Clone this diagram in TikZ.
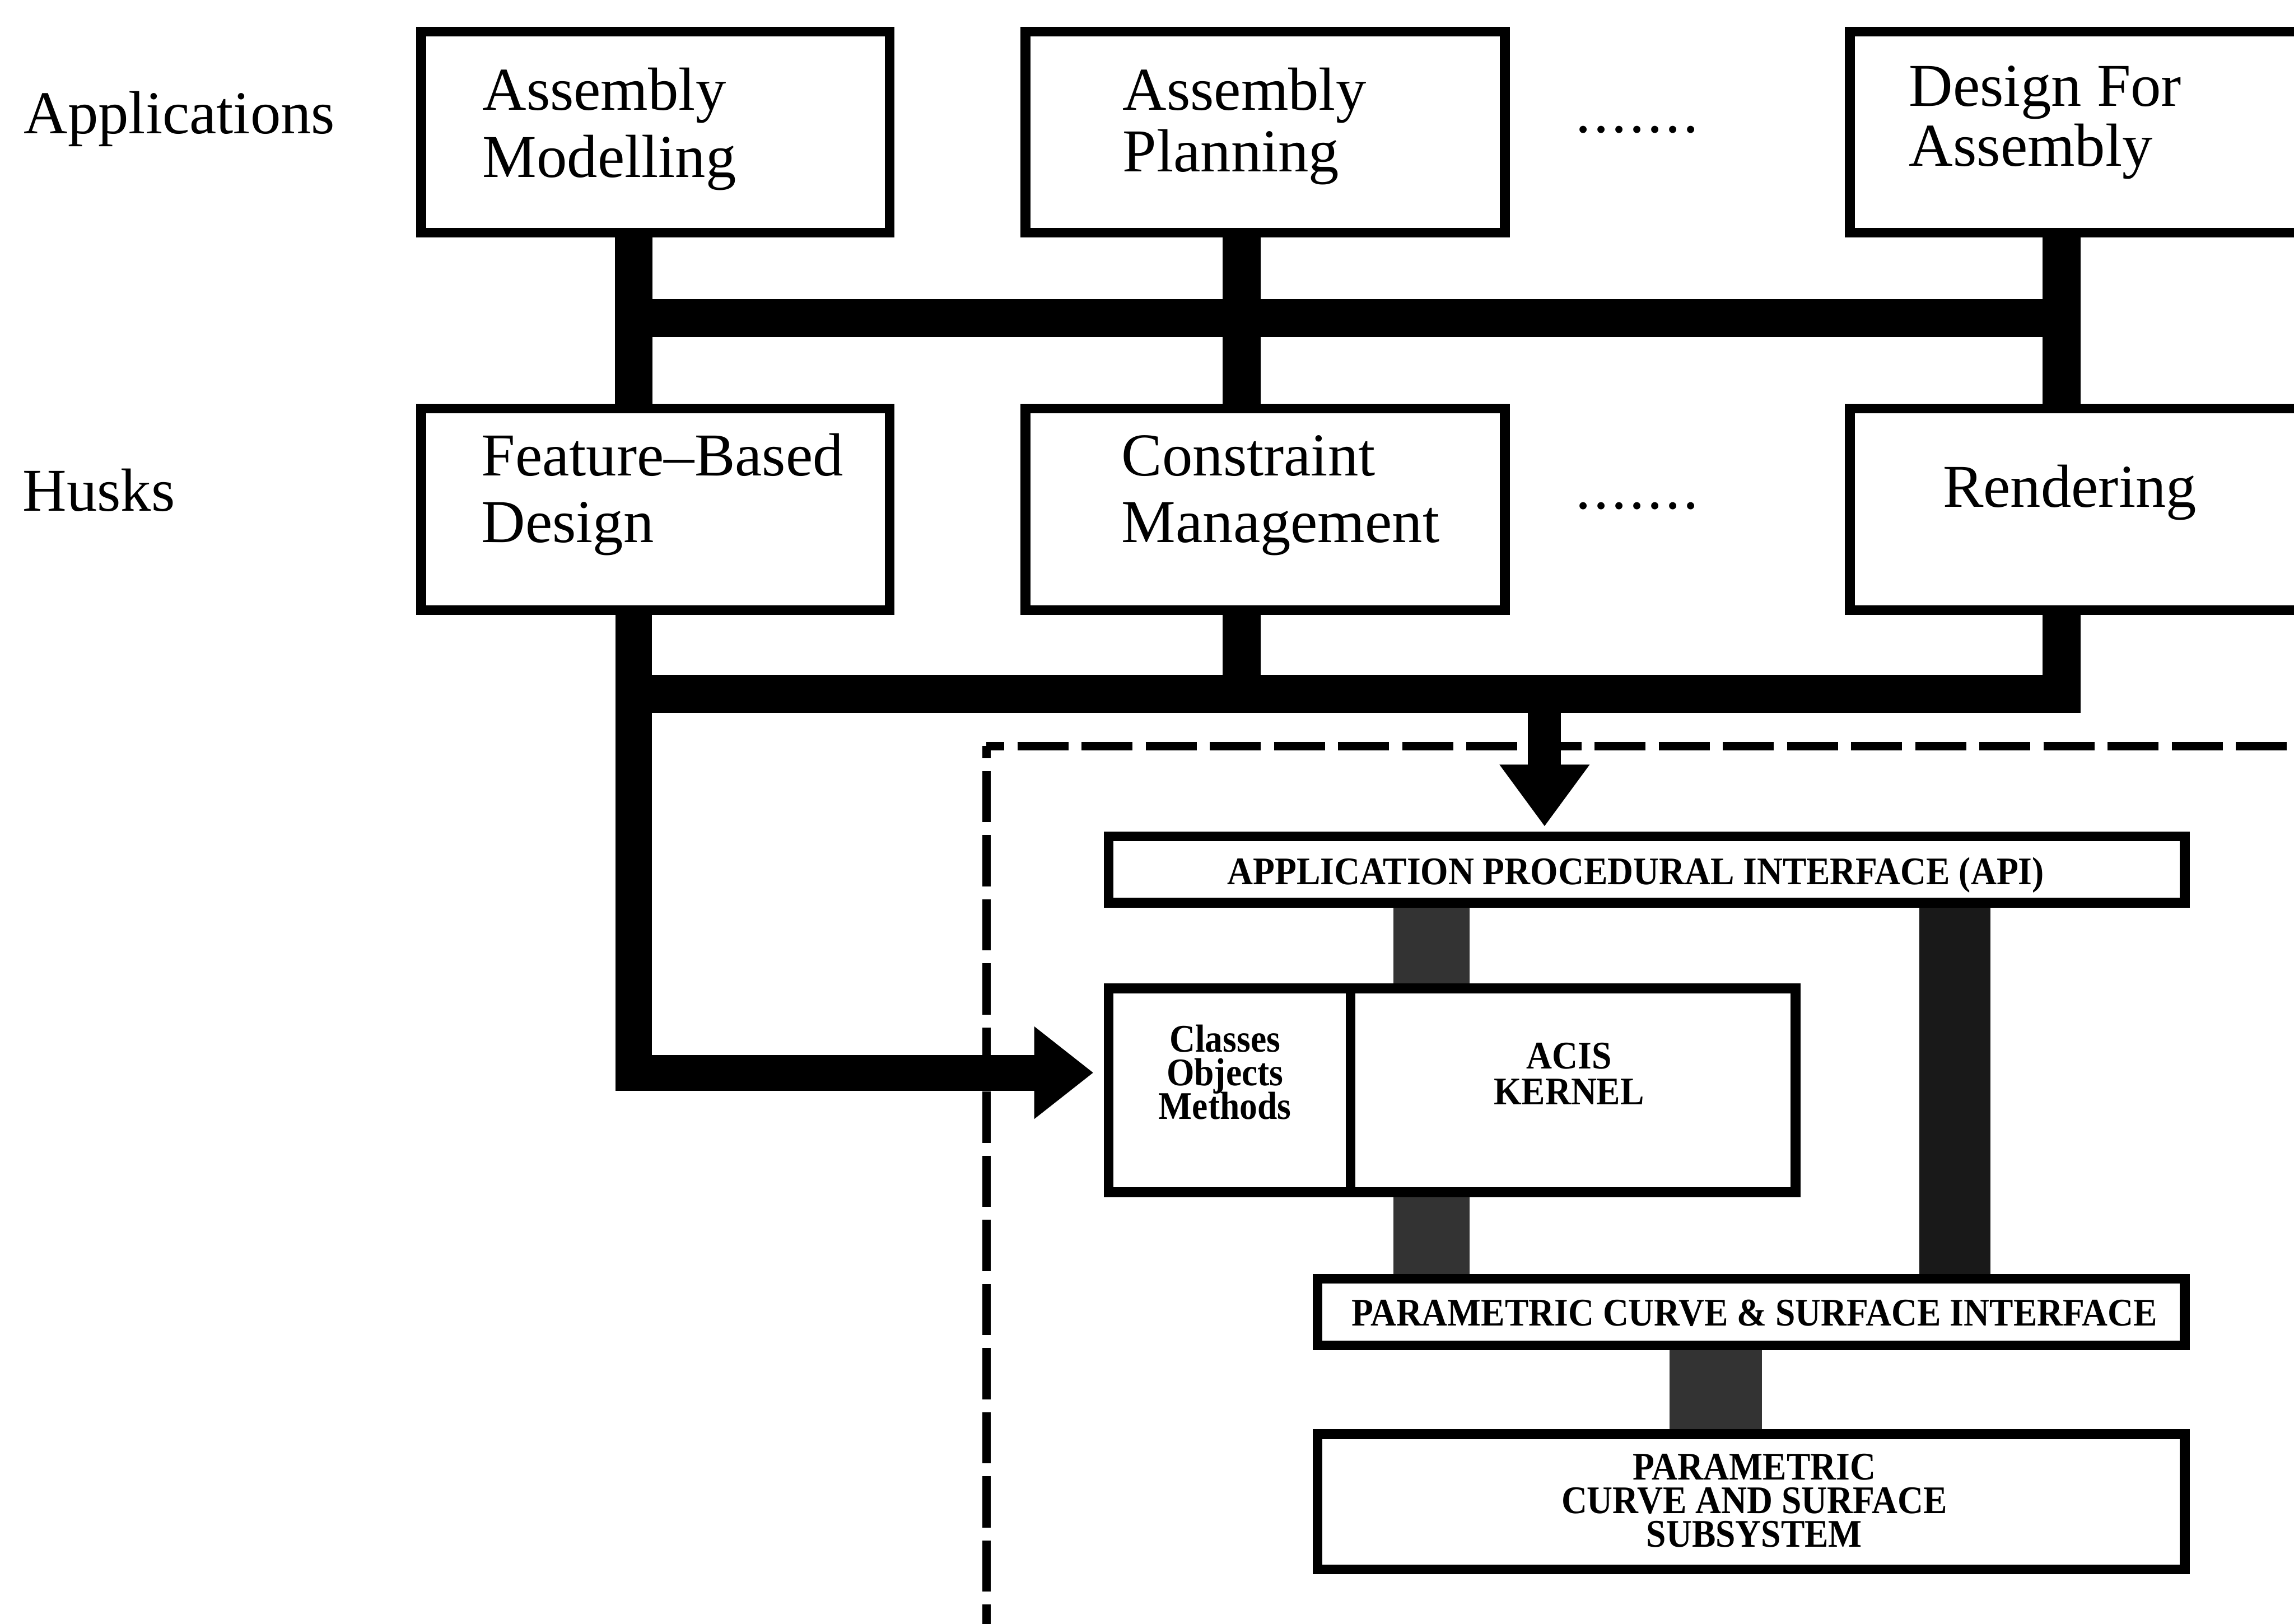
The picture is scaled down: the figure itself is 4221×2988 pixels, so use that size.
\documentclass[tikz,border=0pt]{standalone}
\usepackage{fontspec}
\setmainfont{Liberation Serif}
\newfontfamily\narrowserif[FakeStretch=0.91]{Liberation Serif}
\usetikzlibrary{arrows.meta}
\pgfdeclarelayer{background}
\pgfsetlayers{background,main}

% stacked lines, first baseline on the node's base anchor
\newcommand\stackl[2][12pt]{\vtop{\baselineskip=#1\lineskiplimit=-\maxdimen\halign{##\hfil\cr#2\crcr}}}
\newcommand\stackc[2][12pt]{\vtop{\baselineskip=#1\lineskiplimit=-\maxdimen\halign{\hfil##\hfil\cr#2\crcr}}}
\newcommand\dotrow{.\kern.5pt.\kern.5pt.\kern.5pt.\kern.5pt.\kern.5pt.\kern.5pt.}

\begin{document}
\begin{tikzpicture}[x=0.1pt,y=-0.1pt,
  big/.style={font=\fontsize{11.2pt}{12pt}\selectfont, inner sep=0pt},
  small/.style={font=\narrowserif\bfseries\fontsize{7.2pt}{6.3pt}\selectfont, inner sep=0pt},
  frame/.style={draw, line width=1.8pt, fill=white, inner sep=0pt, anchor=north west},
  bus/.style={line width=7pt, line join=miter},
  feeder/.style={line width=#1, line join=miter},
  link/.style={line width=#1, black!80},
  fence/.style={line width=1.6pt, dash pattern=on 9.4pt off 2.4pt}
]
\useasboundingbox (0,0) rectangle (4221,2988);

% ---------- boxes ----------
\node[frame, minimum width=86.2pt, minimum height=37pt] (AM)  at (766,49) {};
\node[frame, minimum width=88.2pt, minimum height=37pt] (AP)  at (1878,49) {};
\node[frame, minimum width=100pt,  minimum height=37pt] (DFA) at (3395,49) {};

\node[frame, minimum width=86.2pt, minimum height=37.1pt] (FBD) at (766,743) {};
\node[frame, minimum width=88.2pt, minimum height=37.1pt] (CM)  at (1878,743) {};
\node[frame, minimum width=100pt,  minimum height=37.1pt] (REN) at (3395,743) {};

\node[frame, minimum width=198pt,   minimum height=12.2pt] (API)  at (2031,1530) {};
\node[frame, minimum width=44.5pt,  minimum height=37.5pt] (CLS)  at (2031,1810) {};
\node[frame, minimum width=81.9pt,  minimum height=37.5pt] (KRN)  at (2476,1810) {};
\node[frame, minimum width=159.6pt, minimum height=12.3pt] (PCSI) at (2415,2344) {};
\node[frame, minimum width=159.6pt, minimum height=24.9pt] (PCSS) at (2415,2630) {};

% ---------- texts ----------
\node[big, anchor=base west] (tApp)  at (42,246)  {Applications};
\node[big, anchor=base west] (tHusk) at (40,940)  {Husks};

\node[big, anchor=base west] (tAM)  at (886,203)  {\stackl[12.3pt]{Assembly\cr Modelling}};
\node[big, anchor=base west] (tAP)  at (2064,203) {\stackl[11.3pt]{Assembly\cr Planning}};
\node[big, anchor=base west] (tDFA) at (3511,195) {\stackl[11.1pt]{Design For\cr Assembly}};
\node[big, anchor=base west] (dotsA) at (2897,244) {\dotrow};

\node[big, anchor=base west] (tFBD) at (884,875)  {\stackl[12.3pt]{Feature--Based\cr Design}};
\node[big, anchor=base west] (tCM)  at (2062,875) {\stackl[12.3pt]{Constraint\cr Management}};
\node[big, anchor=base west] (tREN) at (3573,933) {Rendering};
\node[big, anchor=base west] (dotsH) at (2897,936) {\dotrow};

\node[small, anchor=base] (tAPI)  at (3010,1628) {APPLICATION PROCEDURAL INTERFACE (API)};
\node[small, anchor=base] (tCLS)  at (2254,1936) {\stackc[6.2pt]{Classes\cr Objects\cr Methods}};
\node[small, anchor=base] (tKRN)  at (2887,1967) {\stackc[6.6pt]{ACIS\cr KERNEL}};
\node[small, anchor=base] (tPCSI) at (3228,2440) {PARAMETRIC CURVE \& SURFACE INTERFACE};
\node[small, anchor=base] (tPCSS) at (3228,2723) {\stackc[6.2pt]{PARAMETRIC\cr CURVE AND SURFACE\cr SUBSYSTEM}};

% ---------- guide coordinates ----------
\coordinate (colA)  at (1166,0);
\coordinate (colB)  at (2285,0);
\coordinate (colC)  at (3793,0);
\coordinate (busI)  at (0,585);
\coordinate (busII) at (0,1277);
\coordinate (feed)  at (2842,0);
\coordinate (turn)  at (0,1974);
\coordinate (lkA)   at (2634,0);
\coordinate (lkB)   at (3597,0);
\coordinate (lkC)   at (3157,0);
\coordinate (dcorner) at (1815,1373);
\coordinate (dbottom) at (1815,3100);
\coordinate (dright)  at (4300,1373);

\begin{pgfonlayer}{background}
  % dashed boundary of the kernel area
  \draw[fence, dash phase=6.1pt] (dcorner) -- (dright);
  \draw[fence, dash phase=7.2pt] (dcorner) -- (dbottom);

  % applications to husks
  \draw[bus] (colA |- AM.south)  -- (colA |- FBD.north);
  \draw[bus] (colB |- AP.south)  -- (colB |- CM.north);
  \draw[bus] (colC |- DFA.south) -- (colC |- REN.north);
  \draw[bus] (colA |- busI) -- (colC |- busI);

  % husks to the kernel
  \draw[bus] (colB |- CM.south)  -- (colB |- busII);
  \draw[bus] (colA |- busII) -- (colC |- busII) -- (colC |- REN.south);
  \draw[feeder=6.6pt, -{Triangle[width=16.3pt,length=10.9pt]}, shorten >=1.9pt]
    (colA |- FBD.south) -- (colA |- turn) -- (CLS.west |- turn);
  \draw[feeder=6.1pt, -{Triangle[width=15.8pt,length=11.4pt]}, shorten >=0.9pt]
    (feed |- busII) -- (feed |- API.north);

  % kernel internals
  \draw[link=14pt] (lkA |- API.south) -- (lkA |- KRN.north);
  \draw[link=14pt] (lkA |- KRN.south) -- (lkA |- PCSI.north);
  \draw[link=13pt, black!90] (lkB |- API.south) -- (lkB |- PCSI.north);
  \draw[link=17pt] (lkC |- PCSI.south) -- (lkC |- PCSS.north);
\end{pgfonlayer}
\end{tikzpicture}
\end{document}
